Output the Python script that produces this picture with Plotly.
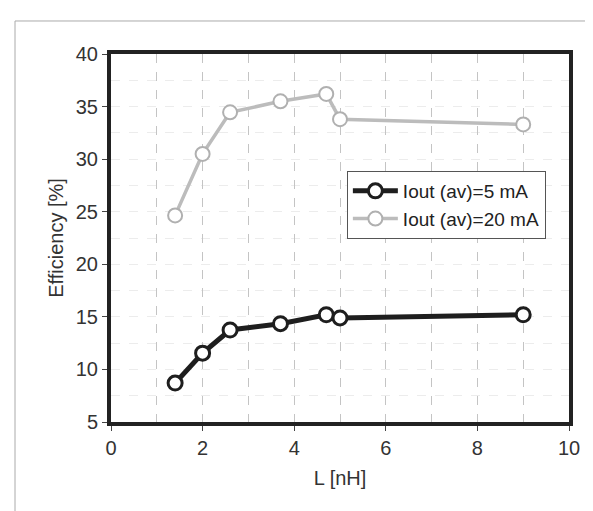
import plotly.graph_objects as go

L_nH = [1.4, 2.0, 2.6, 3.7, 4.7, 5.0, 9.0]
eff_5mA = [8.7, 11.55, 13.75, 14.35, 15.2, 14.9, 15.2]
eff_20mA = [24.65, 30.5, 34.45, 35.5, 36.2, 33.8, 33.3]
x_ticks = [0, 2, 4, 6, 8, 10]
y_ticks = [5, 10, 15, 20, 25, 30, 35, 40]

FONT = "Liberation Sans, Arial, sans-serif"
TICKFONT = dict(family=FONT, size=20, color="#333333")
TITLEFONT = dict(family=FONT, size=20, color="#333333")

fig = go.Figure()
fig.add_trace(go.Scatter(
    x=L_nH, y=eff_20mA, mode="lines+markers", name="Iout (av)=20 mA",
    line=dict(color="#bcbcbc", width=3.5),
    marker=dict(symbol="circle", size=14, color="white",
                line=dict(color="#b0b0b0", width=2)),
))
fig.add_trace(go.Scatter(
    x=L_nH, y=eff_5mA, mode="lines+markers", name="Iout (av)=5 mA",
    line=dict(color="#1e1e1e", width=5),
    marker=dict(symbol="circle", size=14, color="white",
                line=dict(color="#1e1e1e", width=3)),
))

fig.update_layout(
    width=593, height=511,
    margin=dict(l=103, r=32, t=46, b=97),
    paper_bgcolor="white", plot_bgcolor="white",
    font=dict(family=FONT, size=19, color="#333333"),
    showlegend=True,
    legend=dict(
        x=0.515, y=0.682, xanchor="left", yanchor="top",
        bgcolor="white", bordercolor="#555555", borderwidth=1,
        font=dict(family=FONT, size=19, color="#222222"),
        traceorder="reversed", itemwidth=45,
        tracegroupgap=0,
    ),
    xaxis=dict(
        range=[0, 10], tickvals=x_ticks, ticktext=[str(v) for v in x_ticks],
        tickfont=TICKFONT,
        title=dict(text="L [nH]", standoff=14, font=TITLEFONT),
        showline=True, linecolor="#222222", linewidth=4, mirror=True,
        ticks="outside", ticklen=5, tickcolor="#444444",
        showgrid=True, gridcolor="#c4c4c4", griddash="dash", gridwidth=1,
        minor=dict(dtick=1, showgrid=True, gridcolor="#c4c4c4", griddash="dash", gridwidth=1),
        zeroline=False,
    ),
    yaxis=dict(
        range=[5, 40], tickvals=y_ticks, ticktext=[str(v) for v in y_ticks],
        tickfont=TICKFONT,
        title=dict(text="Efficiency [%]", standoff=8, font=TITLEFONT),
        showline=True, linecolor="#222222", linewidth=4, mirror=True,
        ticks="outside", ticklen=5, tickcolor="#444444",
        showgrid=True, gridcolor="#ececec", griddash="dash", gridwidth=1,
        minor=dict(dtick=2.5, showgrid=True, gridcolor="#ececec", griddash="dash", gridwidth=1),
        zeroline=False,
    ),
)

fig.add_shape(type="rect", xref="paper", yref="paper",
              x0=-0.2096, x1=1.085, y0=-0.258, y1=1.0897,
              line=dict(color="#aaaaaa", width=1), layer="below")

fig.write_html("out.html")
